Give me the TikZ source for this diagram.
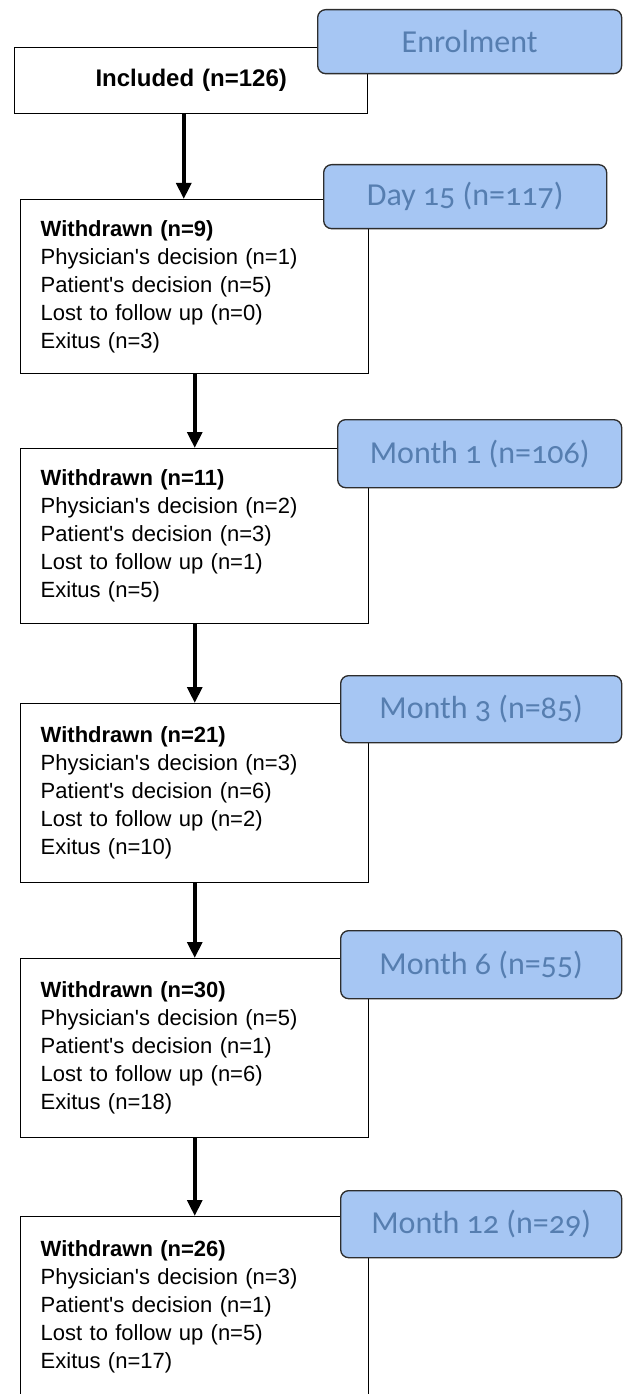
\documentclass[tikz,border=0pt]{standalone}
\usepackage{fontspec}
\usepackage{tikz}
\usetikzlibrary{arrows.meta}

\newfontfamily\boxfont{Liberation Sans}
\newfontfamily\stagefont{Carlito}[Numbers=OldStyle]

\definecolor{stagefill}{RGB}{166,198,243}
\definecolor{stagetext}{RGB}{86,126,176}
\definecolor{stageline}{RGB}{45,45,45}

\tikzset{
  wbox/.style={draw=black, line width=1.1pt, fill=white, rectangle, anchor=north west,
    inner xsep=15pt, inner ysep=0pt, text width=231pt, align=left,
    font=\boxfont\fontsize{16.5}{21}\selectfont},
  stagebox/.style={draw=stageline, line width=1pt, fill=stagefill, rounded corners=6pt,
    anchor=north west, inner sep=0pt, text=stagetext,
    font=\stagefont\fontsize{24}{28}\selectfont},
  flow/.style={line width=3pt, -{Triangle[width=11pt,length=12pt]}},
}

\begin{document}
\begin{tikzpicture}[x=0.75pt,y=0.75pt,yscale=-1,xscale=1]
\useasboundingbox (0,0) rectangle (622,1394);

%Shape: Rectangle [id:inc]
\node [wbox, text width=234.75pt, minimum height=49.5pt, align=center,
  font=\boxfont\bfseries\fontsize{18}{22}\selectfont] (inc) at (14,47) {Included (n=126)};
%Shape: Rectangle [id:w1]
\node [wbox, minimum height=130.5pt] (w1) at (20,199) {\textbf{Withdrawn (n=9)}\\
  Physician's decision (n=1)\\ Patient's decision (n=5)\\ Lost to follow up (n=0)\\ Exitus (n=3)};
%Shape: Rectangle [id:w2]
\node [wbox, minimum height=131.25pt] (w2) at (20,448) {\textbf{Withdrawn (n=11)}\\
  Physician's decision (n=2)\\ Patient's decision (n=3)\\ Lost to follow up (n=1)\\ Exitus (n=5)};
%Shape: Rectangle [id:w3]
\node [wbox, minimum height=134.25pt] (w3) at (20,703) {\textbf{Withdrawn (n=21)}\\
  Physician's decision (n=3)\\ Patient's decision (n=6)\\ Lost to follow up (n=2)\\ Exitus (n=10)};
%Shape: Rectangle [id:w4]
\node [wbox, minimum height=134.25pt] (w4) at (20,958) {\textbf{Withdrawn (n=30)}\\
  Physician's decision (n=5)\\ Patient's decision (n=1)\\ Lost to follow up (n=6)\\ Exitus (n=18)};
%Shape: Rectangle [id:w5]
\node [wbox, minimum height=135pt] (w5) at (20,1216) {\textbf{Withdrawn (n=26)}\\
  Physician's decision (n=3)\\ Patient's decision (n=1)\\ Lost to follow up (n=5)\\ Exitus (n=17)};

%Shape: Rounded Rect [id:enrol]
\node [stagebox, minimum width=228pt, minimum height=48pt] (enrol) at (317,9) {Enrolment};
%Shape: Rounded Rect [id:day15]
\node [stagebox, minimum width=212.25pt, minimum height=48pt] (day15) at (323,164) {Day 15 (n=117)};
%Shape: Rounded Rect [id:mon1]
\node [stagebox, minimum width=213pt, minimum height=51pt] (mon1) at (337,419) {Month 1 (n=106)};
%Shape: Rounded Rect [id:mon3]
\node [stagebox, minimum width=210.75pt, minimum height=50.25pt] (mon3) at (340,675) {Month 3 (n=85)};
%Shape: Rounded Rect [id:mon6]
\node [stagebox, minimum width=210.75pt, minimum height=51pt] (mon6) at (340,930) {Month 6 (n=55)};
%Shape: Rounded Rect [id:mon12]
\node [stagebox, minimum width=210.75pt, minimum height=50.25pt] (mon12) at (340,1190) {Month 12 (n=29)};

%Straight Lines
\coordinate (a1top) at ([xshift=-5.6pt]inc.south);
\draw [flow] (a1top) -- (a1top |- w1.north);
\draw [flow] (w1.south) -- (w2.north);
\draw [flow] (w2.south) -- (w3.north);
\draw [flow] (w3.south) -- (w4.north);
\draw [flow] (w4.south) -- (w5.north);

\end{tikzpicture}
\end{document}
